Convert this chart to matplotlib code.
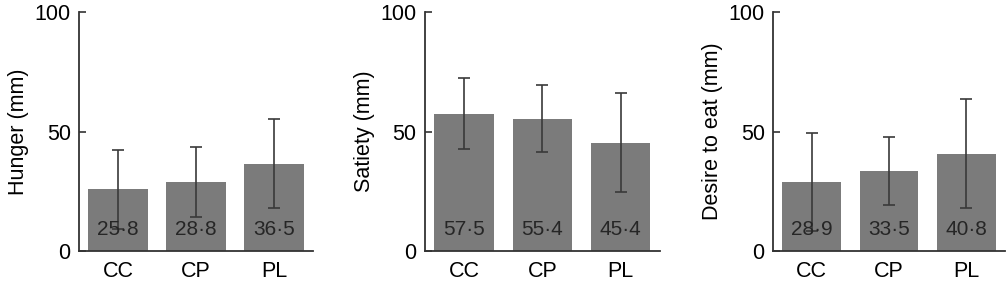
import matplotlib.pyplot as plt

plt.rcParams['font.family'] = ['Liberation Sans', 'DejaVu Sans']

groups = ['CC', 'CP', 'PL']
hunger = [25.8, 28.8, 36.5]
hunger_err = [16.5, 14.6, 18.7]
satiety = [57.5, 55.4, 45.4]
satiety_err = [14.9, 13.9, 20.6]
desire = [28.9, 33.5, 40.8]
desire_err = [20.5, 14.1, 22.7]
ylabels = ['Hunger (mm)', 'Satiety (mm)', 'Desire to eat (mm)']

panels = [(hunger, hunger_err), (satiety, satiety_err), (desire, desire_err)]
lefts = [0.0784, 0.4216, 0.7669]
widths = [0.232, 0.233, 0.230]

fig = plt.figure(figsize=(10.08, 2.81), dpi=100)
for k, (vals, errs) in enumerate(panels):
    ax = fig.add_axes([lefts[k], 0.1068, widths[k], 0.850])
    x = range(len(groups))
    ax.bar(x, vals, width=0.76, color='#7b7b7b', zorder=1)
    ax.errorbar(x, vals, yerr=errs, fmt='none', ecolor='#3a3a3a',
                elinewidth=1.2, capsize=4, capthick=1.2, zorder=2)
    # value printed near the foot of each bar
    for xi, v in zip(x, vals):
        ax.text(xi, 8.8, f'{v:.1f}'.replace('.', '\u00b7'), ha='center', va='center',
                fontsize=15, color='#262626', zorder=3)
    ax.set_xlim(-0.5, 2.5)
    ax.set_ylim(0, 100)
    ax.set_yticks([0, 50, 100])
    ax.set_xticks(list(x))
    ax.set_xticklabels(groups)
    ax.set_ylabel(ylabels[k], fontsize=15.5, labelpad=4)
    ax.spines['top'].set_visible(False)
    ax.spines['right'].set_visible(False)
    for s in ('left', 'bottom'):
        ax.spines[s].set_color('#333333')
        ax.spines[s].set_linewidth(1.3)
    ax.tick_params(axis='y', direction='in', length=5, width=1.2, color='#333333',
                   labelsize=15.5, pad=6)
    ax.tick_params(axis='x', length=0, labelsize=15.5, pad=7)

fig.savefig('out.png', dpi=100)
